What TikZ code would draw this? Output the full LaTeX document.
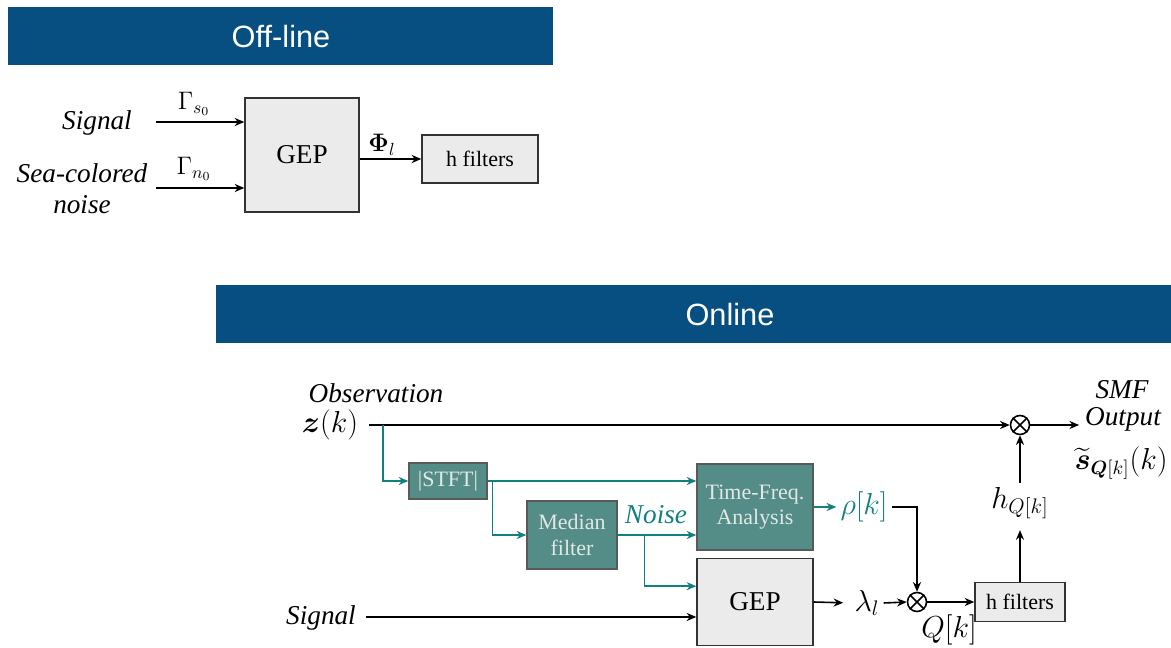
\documentclass[tikz,border=0pt]{standalone}
\usepackage{amsmath,amssymb}
\usepackage{fontspec}
\setmainfont{Liberation Serif}
\newfontfamily\arialfont{Liberation Sans}
\usepackage{xcolor}
\usepackage{tikz}
\usetikzlibrary{arrows.meta,calc}

\definecolor{barblue}{HTML}{064F80}
\definecolor{tealline}{HTML}{11807F}
\definecolor{tealfill}{HTML}{548C87}
\definecolor{tealtext}{HTML}{E2E8E7}
\definecolor{boxgray}{HTML}{EBEBEB}

\tikzset{
  bartext/.style={text=white, inner sep=0pt, font=\arialfont\fontsize{17.5}{20}\selectfont},
  grayblock/.style={draw=black!80, fill=boxgray, line width=0.8pt, inner sep=0pt,
    font=\rmfamily\fontsize{15.5}{18}\selectfont},
  smallgray/.style={grayblock, font=\rmfamily\fontsize{12.5}{14}\selectfont},
  tealblock/.style={draw=black!65, fill=tealfill, line width=0.8pt, inner sep=0pt,
    text=tealtext, align=center, font=\rmfamily\fontsize{12.5}{14.5}\selectfont},
  lbl/.style={inner sep=1pt, align=center, font=\rmfamily\itshape\fontsize{15.5}{17.5}\selectfont},
  mlbl/.style={inner sep=2pt, font=\fontsize{17.28}{20}\selectfont},
  mult/.style={draw, circle, line width=0.9pt, minimum size=0.38cm, inner sep=0pt},
  tline/.style={tealline, line width=0.8pt},
}

\begin{document}
\begin{tikzpicture}[>={Stealth[length=5.5pt,width=4.6pt]}, line width=0.9pt, x=0.02cm, y=-0.02cm]
  \useasboundingbox (0,0) rectangle (1171,648);

  % off-line part
  \fill[barblue] (8,7) rectangle (553,65);
  \node[bartext] (offhd) at (281,37) {Off-line};
  \node[grayblock, minimum width=2.28cm, minimum height=2.28cm] (gep1) at (302,155) {GEP};
  \node[smallgray, minimum width=2.32cm, minimum height=0.96cm] (hf1) at (480,159) {h filters};
  \node[lbl] (sig1) at (97,123) {Signal};
  \node[lbl] (noise1) at (82,189) {Sea-colored\\noise};
  \coordinate (sig1o) at (156,122);
  \coordinate (noise1o) at (156,188);
  \draw[->] (sig1o) -- (sig1o -| gep1.west);
  \draw[->] (noise1o) -- (noise1o -| gep1.west);
  \node[mlbl, font=\fontsize{14.4}{17}\selectfont] (gs) at (194,104) {$\Gamma_{s_0}$};
  \node[mlbl, font=\fontsize{14.4}{17}\selectfont] (gn) at (194,169) {$\Gamma_{n_0}$};
  \draw[->] (gep1.east |- hf1) -- (hf1.west);
  \node[mlbl, font=\fontsize{14.4}{17}\selectfont] (phi) at (382,145) {$\boldsymbol{\Phi}_l$};

  % online part
  \fill[barblue] (216,285) rectangle (1171,343);
  \node[bartext] (onhd) at (730,315) {Online};
  \node[lbl] (obs) at (376,393) {Observation};
  \node[mlbl] (zk) at (330,425) {$\boldsymbol{z}(k)$};
  \node[mult] (mul1) at (1020,425) {};
  \draw (mul1.north west) -- (mul1.south east) (mul1.north east) -- (mul1.south west);
  \node[lbl] (smf) at (1122,390) {SMF};
  \node[lbl, inner sep=0pt] (out) at (1123,419) {Output};
  \node[mlbl, inner sep=0pt, font=\fontsize{16}{18}\selectfont] (shat) at (1121,463) {$\widetilde{\boldsymbol{s}}_{\boldsymbol{Q}[k]}(k)$};

  \node[tealblock, minimum width=1.56cm, minimum height=0.72cm] (stft) at (448,481) {|STFT|};
  \node[tealblock, minimum width=1.8cm, minimum height=1.36cm] (med) at (572,535) {Median\\filter};
  \node[tealblock, minimum width=2.32cm, minimum height=1.72cm] (tfa) at (755,507) {Time-Freq.\\Analysis};
  \node[grayblock, minimum width=2.32cm, minimum height=1.74cm] (gep2) at (755,602) {GEP};
  \node[smallgray, minimum width=1.8cm, minimum height=0.78cm] (hf2) at (1020,602) {h filters};
  \node[mult] (mul2) at (917,602) {};
  \draw (mul2.north west) -- (mul2.south east) (mul2.north east) -- (mul2.south west);

  \node[lbl] (sig2) at (321,618) {Signal};
  \node[lbl, text=tealline] (noiselbl) at (656,515) {Noise};
  \node[mlbl, text=tealline] (rho) at (864,507) {$\rho[k]$};
  \node[mlbl] (lam) at (867,603) {$\lambda_l$};
  \node[mlbl] (qk) at (949,630) {$Q[k]$};
  \node[mlbl] (hq) at (1020,503) {$h_{Q[k]}$};

  \coordinate (zko) at (369,425);
  \coordinate (br1) at (383,425);
  \coordinate (br2) at ($(stft.east)+(5,0)$);
  \coordinate (br3) at ($(med.east)+(27,0)$);
  \coordinate (sig2o) at (366,617);

  \draw[->] (zko) -- (mul1.west);
  \draw[->, shorten >=3pt] (mul1.east) -- (mul1.east -| out.west);
  \draw[->, tline] (br1) |- (stft.west);
  \draw[->, tline] (stft.east) -- (stft.east -| tfa.west);
  \draw[->, tline] (br2) |- (med.west);
  \draw[->, tline] (med.east) -- (med.east -| tfa.west);
  \draw[->, tline] (br3) |- ([yshift=9pt]gep2.west);
  \draw[->] (sig2o) -- (sig2o -| gep2.west);
  \draw[->, tline] (tfa.east) -- (rho.west);
  \draw[->] (rho.east) -| (mul2.north);
  \draw[->, shorten >=4pt] (gep2.east) -- (lam.west);
  \draw[->] (lam.east) -- (mul2.west);
  \draw[->] (mul2.east) -- (hf2.west);
  \draw[->, shorten >=4pt] (hf2.north) -- (hq.south);
  \draw[->] (hq.north) -- (mul1.south);
\end{tikzpicture}
\end{document}
